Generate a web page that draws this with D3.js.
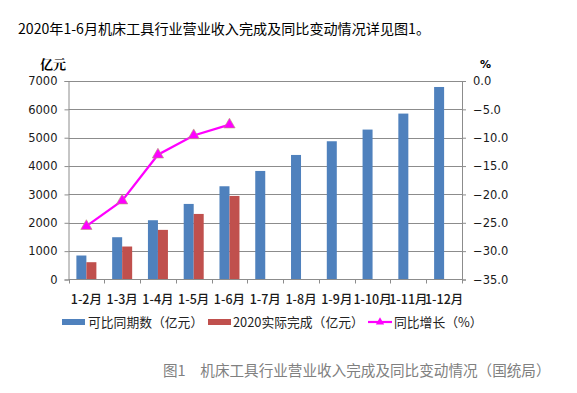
<!DOCTYPE html>
<html><head><meta charset="utf-8">
<script src="https://cdn.jsdelivr.net/npm/d3@7"></script>
<style>body{margin:0;background:#fff;}svg{display:block;}</style>
</head><body>
<script>
const categories = ["1-2月","1-3月","1-4月","1-5月","1-6月","1-7月","1-8月","1-9月","1-10月","1-11月","1-12月"];
const comparable = [846,1491,2090,2665,3288,3828,4392,4875,5287,5851,6789];
const actual2020 = [610,1163,1750,2312,2947,null,null,null,null,null,null];
const growth = [-25.6,-21.1,-13.0,-9.6,-7.7,null,null,null,null,null,null];
const leftTicks = [0,1000,2000,3000,4000,5000,6000,7000];
const rightTicks = [0,-5,-10,-15,-20,-25,-30,-35];
const seriesNames = ["可比同期数（亿元）","2020实际完成（亿元）","同比增长（%）"];

const W=577,H=393;
const m={l:68.5,r:462,t:81,b:279.5};
const cjk='"Noto Sans CJK SC","Noto Sans",sans-serif';
const num='"DejaVu Sans",Verdana,sans-serif';
const svg=d3.select("body").append("svg").attr("width",W).attr("height",H);

svg.append("text").attr("x",18).attr("y",34).attr("font-family",cjk).attr("font-size",14.1).attr("fill","#000")
  .text("2020年1-6月机床工具行业营业收入完成及同比变动情况详见图1。");

const x=d3.scaleBand().domain(categories).range([m.l,m.r]).paddingInner(0).paddingOuter(0);
const yL=d3.scaleLinear().domain([0,7000]).range([m.b,m.t]);
const yR=d3.scaleLinear().domain([-35,0]).range([m.b,m.t]);
const bw=10;

// gridlines
svg.append("g").selectAll("line").data(leftTicks.slice(1)).join("line")
  .attr("x1",m.l).attr("x2",m.r).attr("y1",d=>Math.round(yL(d))+0.5).attr("y2",d=>Math.round(yL(d))+0.5)
  .attr("stroke","#8c8c8c").attr("stroke-width",1);

// bars
const g=svg.append("g");
g.selectAll("rect.b").data(comparable).join("rect").attr("class","b")
  .attr("x",(d,i)=>x(categories[i])+x.bandwidth()/2-bw).attr("width",bw)
  .attr("y",d=>yL(d)).attr("height",d=>yL(0)-yL(d)).attr("fill","#4f81bd");
g.selectAll("rect.r").data(actual2020.map((v,i)=>({v,i})).filter(d=>d.v!=null)).join("rect").attr("class","r")
  .attr("x",d=>x(categories[d.i])+x.bandwidth()/2).attr("width",bw)
  .attr("y",d=>yL(d.v)).attr("height",d=>yL(0)-yL(d.v)).attr("fill","#c0504d");

// axes
const axL=svg.append("g").attr("transform",`translate(${m.l},0)`)
  .call(d3.axisLeft(yL).tickValues(leftTicks).tickSize(4).tickPadding(7).tickFormat(d3.format("d")));
const axR=svg.append("g").attr("transform",`translate(${m.r},0)`)
  .call(d3.axisRight(yR).tickValues(rightTicks).tickSize(4).tickPadding(7).tickFormat(d3.format(".1f")));
const axB=svg.append("g").attr("transform",`translate(0,${m.b})`)
  .call(d3.axisBottom(x).tickSize(0).tickPadding(16));
// band boundary ticks
svg.append("g").selectAll("line").data(categories.concat(["_end"])).join("line")
  .attr("x1",(d,i)=>Math.round(m.l+i*x.bandwidth())+0.5).attr("x2",(d,i)=>Math.round(m.l+i*x.bandwidth())+0.5)
  .attr("y1",m.b).attr("y2",m.b+4).attr("stroke","#8c8c8c");
[axL,axR,axB].forEach(a=>{
  a.selectAll("path.domain").attr("stroke","#8c8c8c");
  a.selectAll(".tick line").attr("stroke","#8c8c8c");
  a.selectAll("text").attr("fill","#1a1a1a").attr("font-size",11.5).attr("font-family",num);
});
axB.selectAll("path.domain").attr("d",`M${m.l},0H${m.r}`);
axB.selectAll("text").attr("font-family",cjk).attr("font-size",12.5).attr("font-weight",500).attr("fill","#1a1a1a");

// line
const pts=growth.map((v,i)=>({v,i})).filter(d=>d.v!=null);
const lx=d=>x(categories[d.i])+x.bandwidth()/2;
svg.append("path").datum(pts).attr("fill","none").attr("stroke","#ff00ff").attr("stroke-width",2.2)
  .attr("d",d3.line().x(lx).y(d=>yR(d.v)));
const tri=d3.symbol().type(d3.symbolTriangle).size(55);
svg.append("g").selectAll("path").data(pts).join("path")
  .attr("transform",d=>`translate(${lx(d)},${yR(d.v)})`).attr("d",tri)
  .attr("fill","#ff00ff").attr("stroke","#b4a070").attr("stroke-width",0.6);

// axis titles
svg.append("text").attr("x",40).attr("y",69).attr("font-family",'"Noto Serif CJK SC","Noto Sans CJK SC",serif')
  .attr("font-size",13).attr("font-weight","bold").text("亿元");
svg.append("text").attr("x",480).attr("y",68).attr("font-family",num).attr("font-size",11).attr("font-weight","bold").text("%");

// legend
const ly=322;
svg.append("rect").attr("x",62).attr("y",ly-3).attr("width",23).attr("height",6).attr("fill","#4f81bd");
svg.append("text").attr("x",88).attr("y",ly+5).attr("font-family",cjk).attr("font-size",12.8).attr("fill","#222").text(seriesNames[0]);
svg.append("rect").attr("x",208).attr("y",ly-3).attr("width",23).attr("height",6).attr("fill","#c0504d");
svg.append("text").attr("x",233).attr("y",ly+5).attr("font-family",cjk).attr("font-size",12.8).attr("fill","#222").text(seriesNames[1]);
svg.append("line").attr("x1",368).attr("x2",392).attr("y1",ly).attr("y2",ly).attr("stroke","#ff00ff").attr("stroke-width",2.2);
svg.append("path").attr("transform",`translate(380,${ly})`).attr("d",d3.symbol().type(d3.symbolTriangle).size(30)).attr("fill","#ff00ff");
svg.append("text").attr("x",394).attr("y",ly+5).attr("font-family",cjk).attr("font-size",12.8).attr("fill","#222").text(seriesNames[2]);

// caption
svg.append("text").attr("x",163).attr("y",376).attr("font-family",cjk).attr("font-size",14.6).attr("fill","#808080")
  .text("图1　机床工具行业营业收入完成及同比变动情况（国统局）");
</script>
</body></html>
